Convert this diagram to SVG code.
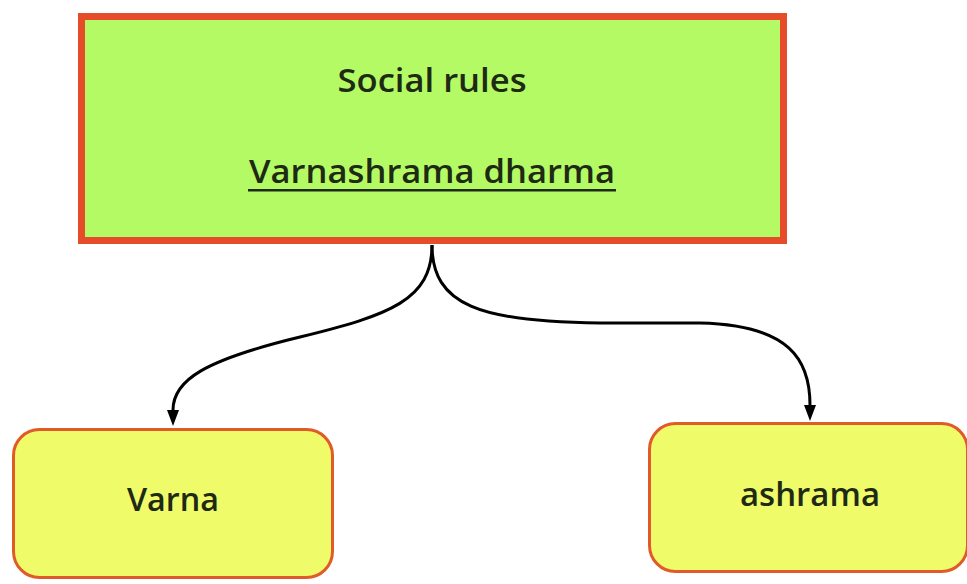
<svg xmlns="http://www.w3.org/2000/svg" width="967" height="584" viewBox="0 0 967 584">
<style>
.t{font-family:"Open Sans","Noto Sans","DejaVu Sans",sans-serif;font-weight:600;font-size:33px;fill:#1e2a14;text-anchor:middle}
.c{fill:none;stroke:#000;stroke-width:3}
</style>
<rect width="967" height="584" fill="#fff"/>
<g id="connectors">
<path class="c" d="M432,245 C432,300 390,315 300,337 C205,360 173,380 173,410"/>
<path class="c" d="M432,245 C432,305 480,322 600,323 L700,323 C790,325 810,360 810,405"/>
<path d="M167,410 L179,410 L173,426 Z" fill="#000"/>
<path d="M804,405 L816,405 L810,421 Z" fill="#000"/>
</g>
<g id="social">
<rect x="81.5" y="16.5" width="702" height="224" fill="#b4fa64" stroke="#e64b2a" stroke-width="7"/>
<text class="t" x="432" y="92" textLength="189" lengthAdjust="spacingAndGlyphs">Social rules</text>
<text class="t" x="432" y="183" textLength="366" lengthAdjust="spacingAndGlyphs">Varnashrama dharma</text>
<rect x="248" y="189" width="368" height="2.5" fill="#1e2a14"/>
</g>
<g id="varna">
<rect x="13.5" y="429.5" width="319" height="148" rx="26" fill="#f0fb6a" stroke="#e05a2a" stroke-width="3"/>
<text class="t" x="173" y="511" textLength="92" lengthAdjust="spacingAndGlyphs">Varna</text>
</g>
<g id="ashrama">
<rect x="649.5" y="423.5" width="318" height="148" rx="26" fill="#f0fb6a" stroke="#e05a2a" stroke-width="3"/>
<text class="t" x="810" y="506" textLength="140" lengthAdjust="spacingAndGlyphs">ashrama</text>
</g>
</svg>
